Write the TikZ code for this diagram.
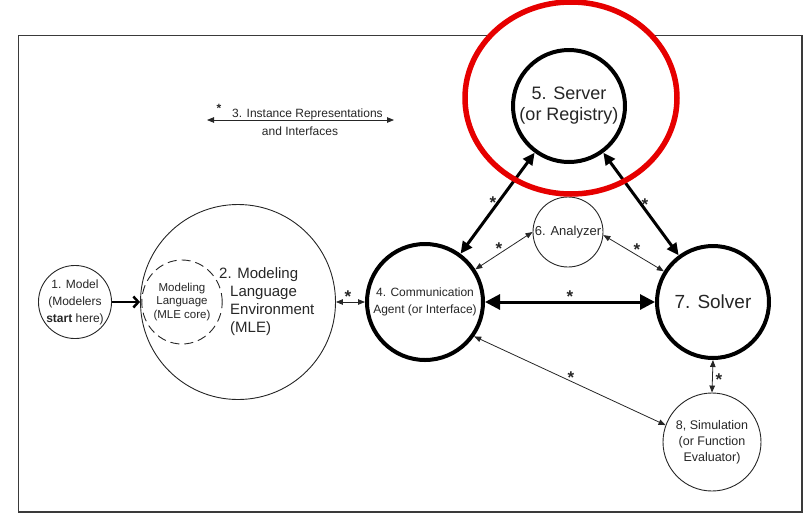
\documentclass[tikz,border=0pt]{standalone}
\usepackage{fontspec}
\setmainfont{Liberation Sans}
\usetikzlibrary{arrows.meta,shapes.geometric}
\definecolor{ink}{HTML}{262626}
\definecolor{ring}{HTML}{E60000}
\definecolor{framegray}{HTML}{3A3A3A}

\begin{document}
\begin{tikzpicture}[x=1pt,y=-1pt,
  thickcirc/.style={circle,draw=black,line width=4pt,inner sep=0pt,text=ink,align=center},
  thincirc/.style={circle,draw=black!85,line width=0.9pt,inner sep=0pt,text=ink,align=center},
  bigarrow/.style={line width=3pt,{Triangle[length=12pt,width=11pt]}-{Triangle[length=12pt,width=11pt]}},
  widearrow/.style={line width=3pt,{Triangle[length=15pt,width=15pt]}-{Triangle[length=15pt,width=15pt]}},
  thinarrow/.style={draw=black!85,line width=0.8pt,{Triangle[length=7pt,width=5.5pt]}-{Triangle[length=7pt,width=5.5pt]}},
  star/.style={font=\bfseries\fontsize{17}{17}\selectfont,inner sep=0pt,text=ink},
  plain/.style={inner sep=0pt,text=ink},
]
\useasboundingbox (0,0) rectangle (804,515);

% outer frame
\draw[framegray,line width=1.8pt] (18.5,35.5) rectangle (802,512);

% highlight ring background (hides the frame line inside)
\fill[white] (571,98) ellipse [x radius=106, y radius=96];

% legend
\node[plain,anchor=base,font=\fontsize{12}{14}\selectfont] (lg1) at (307.5,117) {3. Instance Representations};
\node[plain,anchor=base,font=\fontsize{12}{14}\selectfont] (lg2) at (300,135) {and Interfaces};
\coordinate (lgL) at (207,120);
\coordinate (lgR) at (394,120);
\draw[thinarrow] (lgL) -- (lgR);
\node[star,font=\bfseries\fontsize{12}{12}\selectfont] (lgs) at (219,108) {*};

% components
\node[thincirc,minimum size=70pt,font=\fontsize{12}{17}\selectfont] (n1) at (75,302)
  {1. Model\\(Modelers\\\textbf{start} here)};
\node[thincirc,minimum size=195pt] (n2) at (238,302) {};
\node[draw=black!85,ellipse,minimum width=80pt,minimum height=84pt,inner sep=0pt,
      line width=0.9pt,dash pattern=on 9pt off 5pt,text=ink,align=center,
      font=\fontsize{11.5}{13.5}\selectfont] (core) at (182,302)
  {Modeling\\Language\\(MLE core)};
\node[plain,align=left,anchor=north west,font=\fontsize{15}{18}\selectfont] (n2lbl) at (230,267)
  {\hspace*{-11pt}2. Modeling\\Language\\Environment\\(MLE)};
\node[thickcirc,minimum size=116pt,font=\fontsize{12}{17}\selectfont] (n4) at (425,302)
  {4. Communication\\Agent (or Interface)};
\node[thickcirc,minimum size=112pt,font=\fontsize{18}{21}\selectfont] (n5) at (569,106)
  {5. Server\\(or Registry)};
\node[thincirc,minimum size=70pt,font=\fontsize{13}{15}\selectfont] (n6) at (568,232)
  {6. Analyzer};
\node[thickcirc,minimum size=112pt,font=\fontsize{19}{22}\selectfont] (n7) at (713,302)
  {7. Solver};
\node[thincirc,minimum size=98pt,font=\fontsize{12.5}{16}\selectfont] (n8) at (712,442)
  {8, Simulation\\(or Function\\Evaluator)};

% connectors
\draw[line width=2.5pt,-{Straight Barb[length=5pt,width=11pt]}] (n1) -- (n2);
\draw[thinarrow] (n2) -- (n4);
\draw[widearrow] (n4) -- (n7);
\draw[bigarrow] (n4) -- (n5);
\draw[bigarrow] (n5) -- (n7);
\draw[thinarrow] (n4.33) -- (n6.180);
\draw[thinarrow] (n6.-5) -- (n7.148);
\draw[thinarrow] (n4.-35) -- (n8.160);
\draw[thinarrow] (n7.south) -- (n8.north);

% instance-representation marks
\node[star] (s24) at (348,297) {*};
\node[star] (s47) at (570,297) {*};
\node[star] (s45) at (493,203) {*};
\node[star] (s57) at (645,205) {*};
\node[star] (s46) at (499,249) {*};
\node[star] (s67) at (637,250) {*};
\node[star] (s48) at (571,378) {*};
\node[star] (s78) at (719,380) {*};

% highlight ring
\draw[ring,line width=5.5pt] (571,98) ellipse [x radius=106, y radius=96];
\end{tikzpicture}
\end{document}
